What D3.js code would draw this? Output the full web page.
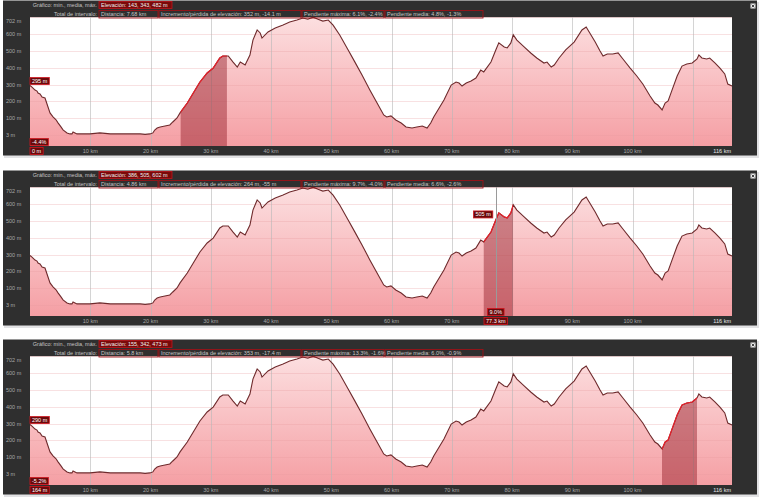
<!DOCTYPE html>
<html><head><meta charset="utf-8">
<script src="https://cdn.jsdelivr.net/npm/d3@7/dist/d3.min.js"></script>
<style>body{margin:0;background:#fff}svg{display:block}text{font-family:"Liberation Sans",Arial,sans-serif}</style>
</head><body><svg id="c" width="768" height="502"></svg>
<script>
// ---- data ----
const km = [0,0.33,0.5,0.83,1.16,1.33,1.66,2.0,2.49,2.99,3.32,3.82,4.32,4.65,5.14,5.48,6.14,6.64,6.97,7.14,7.47,7.8,9.13,9.96,10.8,11.6,13.3,14.9,16.6,18.3,19.1,19.9,20.4,20.7,21.1,21.6,22.4,23.2,23.7,24.4,24.9,26.1,27.1,28.2,29.4,30.4,31.5,32.0,32.9,33.7,34.4,34.9,35.7,36.5,37.0,37.7,38.2,38.5,39.5,40.7,42.0,43.1,44.3,45.3,46.1,47.0,47.8,48.6,49.5,50.3,51.4,52.8,53.9,55.1,56.4,57.6,58.7,59.2,59.9,60.7,61.6,62.4,63.4,64.2,65.1,65.9,66.5,67.0,67.9,68.7,69.9,70.7,71.2,71.7,72.4,73.2,74.0,74.8,75.3,76.5,77.3,77.8,78.7,79.2,79.8,80.2,80.8,82.0,83.1,84.1,85.3,85.8,86.5,87.0,87.8,88.9,90.3,91.6,92.3,92.9,93.8,94.6,95.1,95.8,96.7,97.6,98.4,99.6,100.7,101.7,102.9,103.7,104.2,104.9,105.4,105.9,106.5,107.4,108.2,109.0,109.9,110.7,111.0,111.5,112.3,112.8,113.7,114.5,115.3,115.8,116.5];
const elev = [295,286,280,268,262,250,245,227,221,167,132,109,91,73,49,31,13,7,7,18,13,7,7,7,10,13,7,7,7,7,4,7,13,30,42,48,54,60,78,102,132,191,251,316,370,399,459,471,471,435,405,435,417,477,566,626,608,578,614,638,656,673,685,697,690,702,690,679,685,655,596,507,436,358,269,191,120,108,114,90,72,48,42,48,54,42,72,108,161,209,298,316,310,292,310,322,340,387,376,435,507,549,525,519,549,597,566,525,489,459,429,435,405,417,459,507,554,626,644,608,554,501,471,483,483,489,453,399,352,304,233,191,179,150,191,203,263,352,411,423,429,453,477,459,453,459,429,399,364,304,292];
const yTicks = [3,100,200,300,400,500,600,702];
const gridKm = [10,20,30,40,50,60,70,80,90,100,110];
const xLabelKm = [10,20,30,40,50,60,70,80,90,100];
const xEndLabel = "116 km";
const selStart = [25.0, 75.3, 104.9];
const selEnd = [32.68, 80.16, 110.7];
const cursorKm = [0, 77.3, 0.164];
const cursorElevLabel = ["295 m", "505 m", "290 m"];
const cursorSlopeLabel = ["-4.4%", "9.0%", "-5.2%"];
const cursorDistLabel = ["0 m", "77.3 km", "164 m"];
const elevStats = ["Elevación: 143, 343, 482 m", "Elevación: 386, 505, 602 m", "Elevación: 155, 342, 473 m"];
const distStats = ["Distancia: 7.68 km", "Distancia: 4.86 km", "Distancia: 5.8 km"];
const gainStats = ["Incremento/pérdida de elevación: 352 m, -14.1 m", "Incremento/pérdida de elevación: 264 m, -55 m", "Incremento/pérdida de elevación: 353 m, -17.4 m"];
const maxSlopeStats = ["Pendiente máxima: 6.1%, -2.4%", "Pendiente máxima: 9.7%, -4.0%", "Pendiente máxima: 13.3%, -1.6%"];
const avgSlopeStats = ["Pendiente media: 4.8%, -1.3%", "Pendiente media: 6.6%, -2.6%", "Pendiente media: 6.0%, -0.9%"];
const chartLabel = "Gráfico: min., media, máx.";
const rangeLabel = "Total de intervalo:";

// ---- drawing ----
const svg = d3.select("#c");
const data = km.map((k, i) => ({k, e: elev[i]}));
const x = d3.scaleLinear().domain([0, 116.5]).range([30, 732]);
const y = d3.scaleLinear().domain([-65, 702]).range([146, 17.2]);
const FS = 5.5;
const panelY = [0, 170, 339];

const defs = svg.append("defs");
const grad = defs.append("linearGradient").attr("id", "fillg").attr("x1", 0).attr("x2", 0).attr("y1", 0).attr("y2", 1);
grad.append("stop").attr("offset", "0%").attr("stop-color", "#fcdfe0");
grad.append("stop").attr("offset", "100%").attr("stop-color", "#f59fa4");

const area = d3.area().x(d => x(d.k)).y0(146).y1(d => y(d.e));
const line = d3.line().x(d => x(d.k)).y(d => y(d.e));

function labelBox(g, txt, bx, by, h, opts) {
  const t = g.append("text").attr("x", 0).attr("y", 0).attr("font-size", FS).attr("fill", opts.color || "#fff").text(txt);
  const w = t.node().getComputedTextLength() + 4;
  let left = bx;
  if (opts.anchor === "middle") left = bx - w / 2;
  if (opts.anchor === "end") left = bx - w;
  if (opts.clamp) left = Math.max(opts.clamp[0], Math.min(opts.clamp[1] - w, left));
  g.insert("rect", () => t.node()).attr("x", left).attr("y", by).attr("width", w).attr("height", h)
    .attr("fill", opts.fill).attr("stroke", opts.stroke).attr("stroke-width", 0.8);
  t.attr("x", left + 2).attr("y", by + h / 2 + FS * 0.36);
}

panelY.forEach((oy, p) => {
  const g = svg.append("g").attr("transform", `translate(0,${oy})`);
  g.append("rect").attr("x", 4).attr("y", 2).attr("width", 755).attr("height", 156).attr("fill", "#e2e2e4");
  g.append("rect").attr("x", 3).attr("y", 0.5).attr("width", 754).attr("height", 155).attr("fill", "#2f2f2f");
  g.append("rect").attr("x", 30).attr("y", 17.2).attr("width", 702).attr("height", 146 - 17.2).attr("fill", "#fff");

  const cid = "clip" + p;
  defs.append("clipPath").attr("id", cid).append("rect")
    .attr("x", x(selStart[p])).attr("y", 0).attr("width", x(selEnd[p]) - x(selStart[p])).attr("height", 160);

  g.append("path").datum(data).attr("d", area).attr("fill", "url(#fillg)");
  g.selectAll(".hg").data(yTicks).join("line")
    .attr("x1", 30).attr("x2", 732).attr("y1", d => Math.round(y(d)) + 0.5).attr("y2", d => Math.round(y(d)) + 0.5)
    .attr("stroke", "#e89aa0").attr("stroke-opacity", 0.3).attr("stroke-width", 1);
  g.selectAll(".vg").data(gridKm).join("line")
    .attr("x1", d => Math.round(x(d)) + 0.5).attr("x2", d => Math.round(x(d)) + 0.5).attr("y1", 17.2).attr("y2", 146)
    .attr("stroke", "#b8b8b8").attr("stroke-opacity", 0.6).attr("stroke-width", 1);
  g.append("path").datum(data).attr("d", area).attr("fill", "#8a0f1a").attr("fill-opacity", 0.42).attr("clip-path", `url(#${cid})`);
  g.append("path").datum(data).attr("d", line).attr("fill", "none").attr("stroke", "#6e2a2c").attr("stroke-width", 1.1);
  g.append("path").datum(data).attr("d", line).attr("fill", "none").attr("stroke", "#e8202a").attr("stroke-width", 1.2).attr("clip-path", `url(#${cid})`);
  const cx = x(cursorKm[p]);
  if (cursorKm[p] > 1) {
    g.append("line").attr("x1", Math.round(cx) + 0.5).attr("x2", Math.round(cx) + 0.5)
      .attr("y1", 17.2).attr("y2", 146).attr("stroke", "#9a9a9a").attr("stroke-width", 1);
  }

  g.selectAll(".yl").data(yTicks).join("text")
    .attr("x", 6).attr("y", d => Math.max(21, y(d)) + FS * 0.36)
    .attr("font-size", FS).attr("fill", "#a8a8a8").text(d => d + " m");
  // axis labels hidden where the cursor's distance label sits
  g.selectAll(".xl").data(xLabelKm.filter(d => Math.abs(x(d) - cx) > 24)).join("text")
    .attr("x", d => x(d)).attr("y", 151 + FS * 0.36).attr("text-anchor", "middle")
    .attr("font-size", FS).attr("fill", "#a8a8a8").text(d => d + " km");
  g.append("text").attr("x", 731).attr("y", 151 + FS * 0.36).attr("text-anchor", "end")
    .attr("font-size", FS).attr("fill", "#e8e8e8").text(xEndLabel);

  g.append("text").attr("x", 97).attr("y", 5 + FS * 0.36).attr("text-anchor", "end").attr("font-size", FS).attr("fill", "#c4c4c4").text(chartLabel);
  g.append("text").attr("x", 97).attr("y", 14 + FS * 0.36).attr("text-anchor", "end").attr("font-size", FS).attr("fill", "#c4c4c4").text(rangeLabel);
  g.append("rect").attr("x", 99).attr("y", 1.5).attr("width", 73).attr("height", 7).attr("fill", "#7a0a0a").attr("stroke", "#c0141c").attr("stroke-width", 0.8);
  g.append("text").attr("x", 101).attr("y", 5 + FS * 0.36).attr("font-size", FS).attr("fill", "#f0f0f0").text(elevStats[p]);
  const cells = [[99, 158, distStats[p]], [159, 301, gainStats[p]], [302, 384, maxSlopeStats[p]], [385, 483, avgSlopeStats[p]]];
  cells.forEach(c => {
    g.append("rect").attr("x", c[0]).attr("y", 10.5).attr("width", c[1] - c[0]).attr("height", 7.5).attr("fill", "none").attr("stroke", "#9c1218").attr("stroke-width", 0.9);
    g.append("text").attr("x", c[0] + 2).attr("y", 14.2 + FS * 0.36).attr("font-size", FS).attr("fill", "#c4c4c4").text(c[2]);
  });
  g.append("rect").attr("x", 750.5).attr("y", 3.5).attr("width", 5).attr("height", 5).attr("fill", "#e8e8e8");
  g.append("path").attr("d", "M751.7,4.7L754.3,7.3M754.3,4.7L751.7,7.3").attr("stroke", "#333").attr("stroke-width", 0.9);

  const ce = elev[d3.minIndex(km, k => Math.abs(k - cursorKm[p]))];
  const cy = y(ce);
  const lopts = {fill: "#6a0a0c", stroke: "#d0161e", clamp: [30, 732]};
  if (cursorKm[p] > 1) {
    labelBox(g, cursorElevLabel[p], cx - 3, cy - 9, 7, Object.assign({anchor: "end"}, lopts));
  } else {
    labelBox(g, cursorElevLabel[p], 30, cy - 8, 7, Object.assign({anchor: "start"}, lopts));
  }
  labelBox(g, cursorSlopeLabel[p], cx, 138.5, 7, Object.assign({anchor: "middle"}, lopts));
  labelBox(g, cursorDistLabel[p], cx, 147.5, 7, Object.assign({anchor: "middle"}, lopts));
});
</script></body></html>
